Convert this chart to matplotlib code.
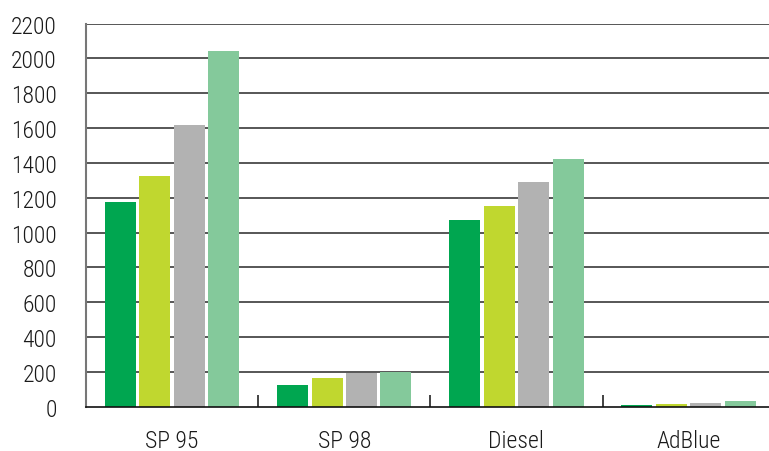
import matplotlib
matplotlib.use("Agg")
import matplotlib.pyplot as plt
import numpy as np
from matplotlib import font_manager

categories = ["SP 95", "SP 98", "Diesel", "AdBlue"]
series_1 = [1178, 127, 1075, 9]
series_2 = [1327, 167, 1155, 15]
series_3 = [1615, 195, 1293, 21]
series_4 = [2040, 201, 1425, 33]
yticks = [0, 200, 400, 600, 800, 1000, 1200, 1400, 1600, 1800, 2000, 2200]

colors = ["#00A650", "#C0D72F", "#B2B2B2", "#84C99B"]

names = {f.name for f in font_manager.fontManager.ttflist}
fam = "DejaVu Sans"
for cand in ["Roboto Condensed", "Archivo Narrow", "Barlow Semi Condensed", "Asap Condensed", "Barlow Condensed"]:
    if cand in names:
        fam = cand
        break
plt.rcParams["font.family"] = [fam, "DejaVu Sans"]
plt.rcParams["font.weight"] = 300

W, H = 769, 452
fig = plt.figure(figsize=(W / 100, H / 100), dpi=100)
ax = fig.add_axes([86 / W, (H - 407.7) / H, 688.7 / W, (407.7 - 24.6) / H])

x = np.arange(len(categories))
width = 0.18
offsets = [-0.3, -0.1, 0.1, 0.3]
for s, off, c in zip([series_1, series_2, series_3, series_4], offsets, colors):
    ax.bar(x + off, s, width=width, color=c, zorder=3)

ax.set_xlim(-0.5, len(categories) - 0.5)
ax.set_ylim(0, 2200)
ax.set_yticks(yticks)
ax.set_yticklabels([str(v) for v in yticks], fontsize=17, color="#1a1a1a", fontweight=300)
ax.tick_params(axis="y", length=0, pad=21)
for v in yticks[1:]:
    ax.axhline(v, color="#3a3a3a", lw=1.2, zorder=1)

ax.set_xticks(x)
ax.set_xticklabels(categories, fontsize=17, color="#1a1a1a", fontweight=300)
ax.tick_params(axis="x", which="major", length=0, pad=16)
ax.set_xticks(np.arange(-0.5, len(categories), 1.0), minor=True)
ax.tick_params(axis="x", which="minor", direction="in", length=9, width=1.2, color="#222")

for sp in ["top", "right"]:
    ax.spines[sp].set_visible(False)
ax.spines["left"].set_color("#777777")
ax.spines["left"].set_linewidth(1.5)
ax.spines["bottom"].set_color("#111111")
ax.spines["bottom"].set_linewidth(1.2)
ax.spines["bottom"].set_zorder(4)

fig.savefig("out.png", dpi=100)
